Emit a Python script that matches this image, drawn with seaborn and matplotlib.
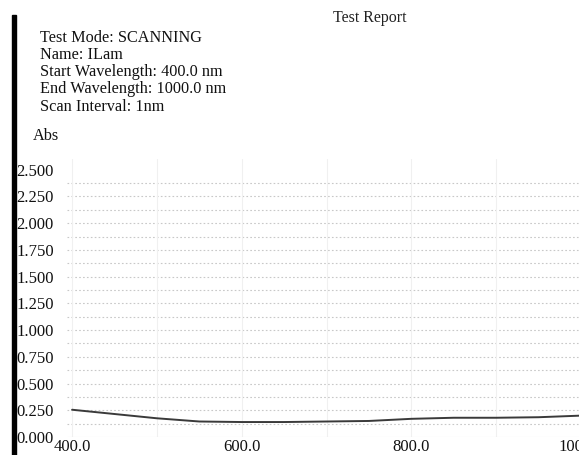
import numpy as np
import pandas as pd
import matplotlib.pyplot as plt
import seaborn as sns
from matplotlib.patches import Rectangle

# absorbance scan
wavelength = [400, 450, 500, 550, 600, 650, 700, 750, 800, 850, 900, 950, 1000]
absorbance = [0.255, 0.215, 0.175, 0.145, 0.14, 0.14, 0.145, 0.15, 0.17, 0.18, 0.18, 0.185, 0.20]

header = ["Test Mode: SCANNING", "Name: ILam", "Start Wavelength: 400.0 nm",
          "End Wavelength: 1000.0 nm", "Scan Interval: 1nm"]
yticks = [0.0, 0.25, 0.5, 0.75, 1.0, 1.25, 1.5, 1.75, 2.0, 2.25, 2.5]
xticks = [400, 600, 800, 1000]

df = pd.DataFrame({"wl": wavelength, "abs": absorbance})

sns.set_theme(style="white")
plt.rcParams['font.family'] = ['Liberation Serif', 'DejaVu Serif']

W, H = 579, 455
fig = plt.figure(figsize=(W / 100, H / 100), dpi=100)

# axes placed in pixel terms
left, right, bottom, top = 67, 581, 437, 159
ax = fig.add_axes([left / W, (H - bottom) / H, (right - left) / W, (bottom - top) / H])

sns.lineplot(data=df, x="wl", y="abs", ax=ax, color="#3a3a3a", linewidth=1.4)

ax.set_xlim(394, 1000)
ax.set_ylim(0, 2.6)

# faint dotted grid every 0.125, light verticals every 100 nm
for v in np.arange(0.125, 2.5, 0.125):
    ax.axhline(v, color="#c8c8c8", linestyle=(0, (1.5, 2.0)), linewidth=0.8, zorder=0)
for v in range(400, 1001, 100):
    ax.axvline(v, color="#f0f0f0", linewidth=0.8, zorder=0)
ax.axhline(0.0, color="#e6e6e6", linewidth=0.8, zorder=0)

for s in ax.spines.values():
    s.set_visible(False)

ax.set_yticks(yticks)
ax.set_yticklabels([f"{v:.3f}" for v in yticks])
ax.set_xticks(xticks)
ax.set_xticklabels([f"{v:.1f}" for v in xticks])
ax.tick_params(axis="y", length=0, pad=9.5, labelsize=12, colors="#111111")
ax.tick_params(axis="x", length=0, pad=1.5, labelsize=12, colors="#111111")
ax.set_xlabel("")
ax.set_ylabel("")

# black bar from the scan edge
fig.add_artist(Rectangle((12 / W, 0), 4 / W, (H - 15) / H,
                         transform=fig.transFigure, color="black"))

fig.text(370 / W, 1 - 18 / H, "Test Report", ha="center", va="center",
         fontsize=11.5, color="#222222")
ys = [38, 55, 72, 89, 107]
for txt, y in zip(header, ys):
    fig.text(40 / W, 1 - y / H, txt, ha="left", va="center", fontsize=11.7, color="#111111")
fig.text(33 / W, 1 - 136 / H, "Abs", ha="left", va="center", fontsize=11.7, color="#111111")

fig.savefig("out.png", dpi=100)
